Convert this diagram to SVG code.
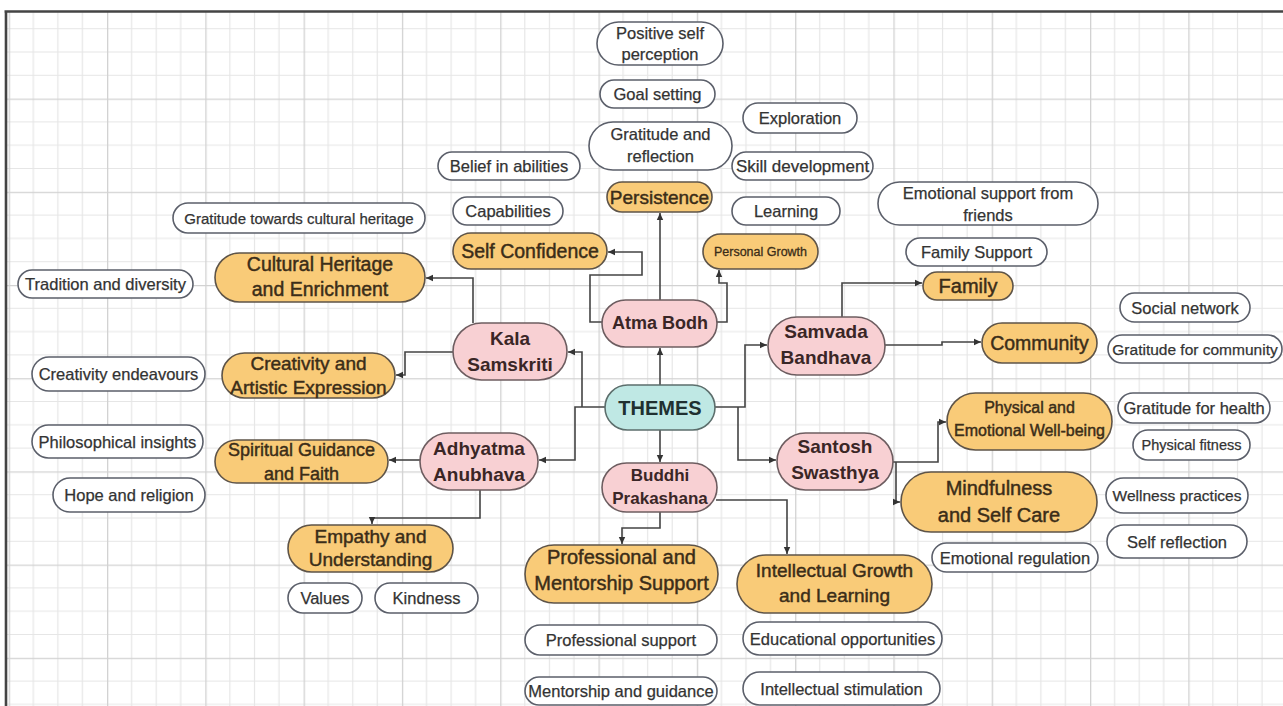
<svg xmlns="http://www.w3.org/2000/svg" width="1283" height="706" viewBox="0 0 1283 706">
<defs>
<pattern id="grid" patternUnits="userSpaceOnUse" x="8.7" y="5.4" width="98.3" height="93.2">
<path d="M24.6,0V93.2M49.2,0V93.2M73.7,0V93.2M0,23.3H98.3M0,46.6H98.3M0,69.9H98.3" stroke="#e6e6e6" stroke-width="1.2" fill="none"/>
<path d="M0.6,0V93.2M0,0.6H98.3" stroke="#d2d2d2" stroke-width="1.4" fill="none"/>
</pattern>
<marker id="arr" markerUnits="userSpaceOnUse" markerWidth="8" markerHeight="8" viewBox="0 0 8 8" refX="7" refY="4" orient="auto">
<path d="M0,0.8L7,4L0,7.2Z" fill="#333"/>
</marker>
</defs>
<style>
.leaf rect{fill:#fff;stroke:#5b5f6a;stroke-width:1.6}
.leaf text{font-family:"Liberation Sans",Arial,sans-serif;font-size:16.5px;fill:#333;stroke:#333;stroke-width:0.25;text-anchor:middle;dominant-baseline:central}
.sub rect{fill:#f9cb78;stroke:#5e5448;stroke-width:1.6}
.sub text{font-family:"Liberation Sans",Arial,sans-serif;font-size:19px;fill:#3b2d18;stroke:#3b2d18;stroke-width:0.45;text-anchor:middle;dominant-baseline:central}
.theme rect{fill:#f8d0d3;stroke:#6d5d60;stroke-width:1.6}
.theme text{font-family:"Liberation Sans",Arial,sans-serif;font-weight:bold;font-size:19px;fill:#3a2626;text-anchor:middle;dominant-baseline:central}
.root rect{fill:#bfe8e4;stroke:#5c6e6c;stroke-width:1.6}
.root text{font-family:"Liberation Sans",Arial,sans-serif;font-weight:bold;font-size:20px;fill:#203030;text-anchor:middle;dominant-baseline:central}
.conn path{fill:none;stroke:#444;stroke-width:1.6;marker-end:url(#arr)}
</style>
<rect x="0" y="0" width="1283" height="706" fill="#fff"/>
<rect x="7" y="12" width="1276" height="694" fill="url(#grid)"/>
<path d="M4.5,11.5H1283M6,11V706" stroke="#444" stroke-width="2.6" fill="none"/>

<g class="conn" id="connectors">
<path d="M660,385V348"/>
<path d="M660,300V213"/>
<path d="M602,322H590V275H642V252H608"/>
<path d="M717,322H727V283H719V270"/>
<path d="M582,407V352H568"/>
<path d="M605,407H575V460H539"/>
<path d="M473,323V278H426"/>
<path d="M453,352H405V375H396"/>
<path d="M420,460H389"/>
<path d="M480,490V518H372V524"/>
<path d="M660,430V462"/>
<path d="M660,512V528H622V544"/>
<path d="M716,500H787V554"/>
<path d="M715,407H745V345H767"/>
<path d="M738,407V460H776"/>
<path d="M842,317V283H922"/>
<path d="M885,345H942V342H981"/>
<path d="M893,462H938V422H946"/>
<path d="M896,462V502H900"/>
</g>

<g class="root" id="n-themes"><rect x="605" y="385" width="110" height="45" rx="22.5"/><text x="660" y="408">THEMES</text></g>

<g class="theme" id="n-atma"><rect x="602" y="300" width="115" height="47" rx="23.5"/><text x="660" y="323" style="font-size:18px">Atma Bodh</text></g>
<g class="theme" id="n-kala"><rect x="453" y="323" width="114" height="57" rx="28.5"/><text x="510" y="338">Kala</text><text x="510" y="364">Samskriti</text></g>
<g class="theme" id="n-samvada"><rect x="768" y="317" width="117" height="58" rx="29"/><text x="826" y="331">Samvada</text><text x="826" y="357">Bandhava</text></g>
<g class="theme" id="n-santosh"><rect x="777" y="433" width="116" height="57" rx="28.5"/><text x="835" y="446">Santosh</text><text x="835" y="472">Swasthya</text></g>
<g class="theme" id="n-adhyatma"><rect x="420" y="433" width="118" height="57" rx="28.5"/><text x="479" y="448">Adhyatma</text><text x="479" y="474">Anubhava</text></g>
<g class="theme" id="n-buddhi"><rect x="602" y="463" width="115" height="49" rx="24.5"/><text x="660" y="475" style="font-size:17px">Buddhi</text><text x="660" y="498" style="font-size:17px">Prakashana</text></g>

<g class="sub" id="n-persistence"><rect x="607" y="182" width="105" height="30" rx="15"/><text x="659.5" y="197">Persistence</text></g>
<g class="sub" id="n-selfconf"><rect x="453" y="233" width="154" height="36" rx="18"/><text x="530" y="251" style="font-size:19.5px">Self Confidence</text></g>
<g class="sub" id="n-personal"><rect x="703" y="234" width="115" height="35" rx="17.5"/><text x="760.5" y="251.5" style="font-size:12.5px;stroke-width:0.3">Personal Growth</text></g>
<g class="sub" id="n-family"><rect x="923" y="272" width="90" height="28" rx="14"/><text x="968" y="286" style="font-size:20px">Family</text></g>
<g class="sub" id="n-community"><rect x="982" y="323" width="115" height="40" rx="20"/><text x="1039.5" y="343" style="font-size:19.5px">Community</text></g>
<g class="sub" id="n-physical"><rect x="947" y="393" width="165" height="57" rx="28.5"/><text x="1029.5" y="407" style="font-size:16px">Physical and</text><text x="1029.5" y="430" style="font-size:16px">Emotional Well-being</text></g>
<g class="sub" id="n-mindful"><rect x="901" y="472" width="196" height="60" rx="30"/><text x="999" y="488" style="font-size:20px">Mindfulness</text><text x="999" y="515" style="font-size:20px">and Self Care</text></g>
<g class="sub" id="n-intellectual"><rect x="737" y="555" width="195" height="58" rx="29"/><text x="834.5" y="570">Intellectual Growth</text><text x="834.5" y="595">and Learning</text></g>
<g class="sub" id="n-professional"><rect x="525" y="545" width="193" height="58" rx="29"/><text x="621.5" y="557" style="font-size:20px">Professional and</text><text x="621.5" y="583" style="font-size:20px">Mentorship Support</text></g>
<g class="sub" id="n-empathy"><rect x="288" y="525" width="165" height="47" rx="23.5"/><text x="370.5" y="536">Empathy and</text><text x="370.5" y="559">Understanding</text></g>
<g class="sub" id="n-spiritual"><rect x="215" y="440" width="173" height="43" rx="21.5"/><text x="301.5" y="450" style="font-size:18px">Spiritual Guidance</text><text x="301.5" y="474" style="font-size:18px">and Faith</text></g>
<g class="sub" id="n-creativity"><rect x="222" y="353" width="173" height="45" rx="22.5"/><text x="308.5" y="363">Creativity and</text><text x="308.5" y="387">Artistic Expression</text></g>
<g class="sub" id="n-cultural"><rect x="215" y="253" width="210" height="49" rx="24.5"/><text x="320" y="264" style="font-size:19.5px">Cultural Heritage</text><text x="320" y="289" style="font-size:19.5px">and Enrichment</text></g>

<g class="leaf" id="l-positive"><rect x="597" y="22" width="126" height="43" rx="21.5"/><text x="660" y="33">Positive self</text><text x="660" y="54">perception</text></g>
<g class="leaf" id="l-goal"><rect x="600" y="80" width="115" height="28" rx="14"/><text x="657.5" y="94">Goal setting</text></g>
<g class="leaf" id="l-gratref"><rect x="589" y="122" width="143" height="48" rx="24"/><text x="660.5" y="134">Gratitude and</text><text x="660.5" y="156">reflection</text></g>
<g class="leaf" id="l-explore"><rect x="743" y="103" width="114" height="30" rx="15"/><text x="800" y="118">Exploration</text></g>
<g class="leaf" id="l-skill"><rect x="732" y="152" width="141" height="28" rx="14"/><text x="802.5" y="166" style="font-size:17px">Skill development</text></g>
<g class="leaf" id="l-belief"><rect x="438" y="152" width="142" height="28" rx="14"/><text x="509" y="166">Belief in abilities</text></g>
<g class="leaf" id="l-capab"><rect x="453" y="197" width="110" height="28" rx="14"/><text x="508" y="211">Capabilities</text></g>
<g class="leaf" id="l-learning"><rect x="732" y="197" width="108" height="28" rx="14"/><text x="786" y="211">Learning</text></g>
<g class="leaf" id="l-emofriends"><rect x="878" y="182" width="220" height="43" rx="21.5"/><text x="988" y="193">Emotional support from</text><text x="988" y="215">friends</text></g>
<g class="leaf" id="l-famsupport"><rect x="906" y="238" width="141" height="28" rx="14"/><text x="976.5" y="252">Family Support</text></g>
<g class="leaf" id="l-gratcult"><rect x="173" y="203" width="252" height="30" rx="15"/><text x="299" y="218" style="font-size:15px">Gratitude towards cultural heritage</text></g>
<g class="leaf" id="l-tradition"><rect x="18" y="270" width="175" height="28" rx="14"/><text x="105.5" y="284">Tradition and diversity</text></g>
<g class="leaf" id="l-creatend"><rect x="32" y="357" width="173" height="34" rx="17"/><text x="118.5" y="374">Creativity endeavours</text></g>
<g class="leaf" id="l-philo"><rect x="32" y="425" width="171" height="33" rx="16.5"/><text x="117.5" y="441.5">Philosophical insights</text></g>
<g class="leaf" id="l-hope"><rect x="53" y="478" width="152" height="34" rx="17"/><text x="129" y="495">Hope and religion</text></g>
<g class="leaf" id="l-values"><rect x="288" y="583" width="74" height="30" rx="15"/><text x="325" y="598">Values</text></g>
<g class="leaf" id="l-kindness"><rect x="375" y="583" width="103" height="30" rx="15"/><text x="426.5" y="598">Kindness</text></g>
<g class="leaf" id="l-profsupport"><rect x="525" y="625" width="192" height="30" rx="15"/><text x="621" y="640">Professional support</text></g>
<g class="leaf" id="l-mentor"><rect x="525" y="677" width="192" height="28" rx="14"/><text x="621" y="691">Mentorship and guidance</text></g>
<g class="leaf" id="l-edu"><rect x="743" y="622" width="199" height="33" rx="16.5"/><text x="842.5" y="638.5">Educational opportunities</text></g>
<g class="leaf" id="l-intstim"><rect x="743" y="672" width="197" height="33" rx="16.5"/><text x="841.5" y="688.5">Intellectual stimulation</text></g>
<g class="leaf" id="l-emoreg"><rect x="932" y="543" width="166" height="29" rx="14.5"/><text x="1015" y="557.5">Emotional regulation</text></g>
<g class="leaf" id="l-wellness"><rect x="1106" y="478" width="142" height="35" rx="17.5"/><text x="1177" y="495.5" style="font-size:15.5px">Wellness practices</text></g>
<g class="leaf" id="l-selfref"><rect x="1107" y="525" width="140" height="33" rx="16.5"/><text x="1177" y="541.5">Self reflection</text></g>
<g class="leaf" id="l-social"><rect x="1120" y="293" width="130" height="29" rx="14.5"/><text x="1185" y="307.5">Social network</text></g>
<g class="leaf" id="l-gratcomm"><rect x="1108" y="335" width="174" height="28" rx="14"/><text x="1195" y="349" style="font-size:15.5px">Gratitude for community</text></g>
<g class="leaf" id="l-grathealth"><rect x="1118" y="393" width="152" height="30" rx="15"/><text x="1194" y="408">Gratitude for health</text></g>
<g class="leaf" id="l-fitness"><rect x="1133" y="430" width="117" height="30" rx="15"/><text x="1191.5" y="445" style="font-size:14.5px">Physical fitness</text></g>
</svg>
